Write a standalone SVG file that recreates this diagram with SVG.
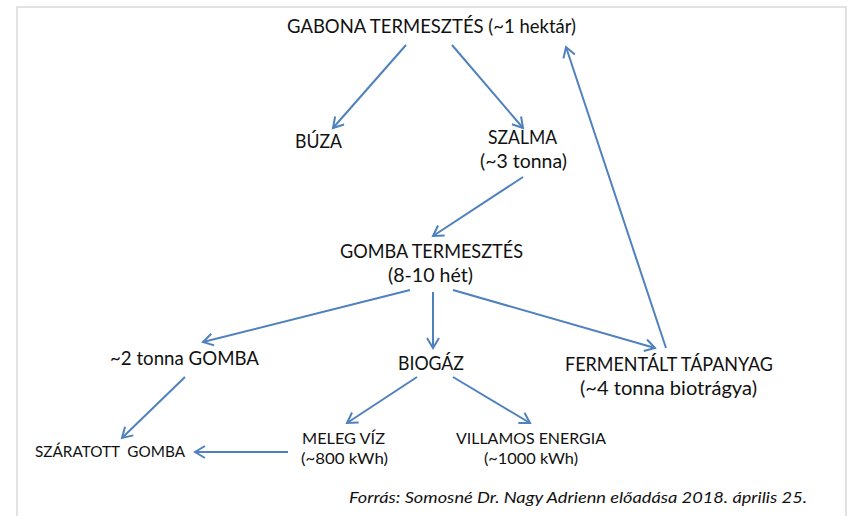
<svg xmlns="http://www.w3.org/2000/svg" width="854" height="516" viewBox="0 0 854 516">
<style>
.t{font-family:Lato,"Open Sans","Liberation Sans",sans-serif;font-size:18.5px;fill:#111111}
.s{font-size:15.5px}
.pre{white-space:pre}
.src{font-family:Lato,"Open Sans","Liberation Sans",sans-serif;font-size:16px;font-style:italic;fill:#111111}
.c line{stroke:#4f81bd;stroke-width:2;marker-end:url(#ah)}
</style>
<defs>
<marker id="ah" markerUnits="userSpaceOnUse" markerWidth="16" markerHeight="16" viewBox="-12 -8 14 16" refX="0" refY="0" orient="auto">
<path d="M -10 -6 L 0 0 L -10 6" fill="none" stroke="#4f81bd" stroke-width="2"/>
</marker>
</defs>
<rect width="854" height="516" fill="#ffffff"/>
<path d="M17 516 V7 H846 V516" fill="none" stroke="#d9d9d9" stroke-width="1.5"/>
<g class="c" id="connectors">
<line x1="406" y1="45" x2="333" y2="128"/>
<line x1="452" y1="45" x2="523" y2="128"/>
<line x1="523" y1="177" x2="433" y2="236"/>
<line x1="410" y1="290" x2="203" y2="342"/>
<line x1="433" y1="292" x2="433" y2="348"/>
<line x1="453" y1="290" x2="655" y2="348"/>
<line x1="666" y1="348" x2="566" y2="47"/>
<line x1="417" y1="377" x2="347" y2="423"/>
<line x1="453" y1="377" x2="530" y2="423"/>
<line x1="185" y1="377" x2="122" y2="438"/>
<line x1="288" y1="452" x2="195" y2="452"/>
</g>
<g id="gabona"><text class="t" x="287" y="33" textLength="289" lengthAdjust="spacingAndGlyphs">GABONA TERMESZTÉS (~1 hektár)</text></g>
<g id="buza"><text class="t" x="295" y="148" textLength="47" lengthAdjust="spacingAndGlyphs">BÚZA</text></g>
<g id="szalma"><text class="t" x="488" y="144" textLength="69" lengthAdjust="spacingAndGlyphs">SZALMA</text><text class="t" x="480" y="168" textLength="87" lengthAdjust="spacingAndGlyphs">(~3 tonna)</text></g>
<g id="gomba-termesztes"><text class="t" x="340" y="258" textLength="183" lengthAdjust="spacingAndGlyphs">GOMBA TERMESZTÉS</text><text class="t" x="388" y="282" textLength="85" lengthAdjust="spacingAndGlyphs">(8-10 hét)</text></g>
<g id="gomba2"><text class="t" x="110" y="365" textLength="149" lengthAdjust="spacingAndGlyphs">~2 tonna GOMBA</text></g>
<g id="biogaz"><text class="t" x="398" y="370" textLength="66" lengthAdjust="spacingAndGlyphs">BIOGÁZ</text></g>
<g id="fermentalt"><text class="t" x="565" y="371" textLength="208" lengthAdjust="spacingAndGlyphs">FERMENTÁLT TÁPANYAG</text><text class="t" x="580" y="395" textLength="177" lengthAdjust="spacingAndGlyphs">(~4 tonna biotrágya)</text></g>
<g id="szaratott"><text class="t s pre" x="35" y="457" textLength="150" lengthAdjust="spacingAndGlyphs">SZÁRATOTT  GOMBA</text></g>
<g id="meleg"><text class="t s" x="302" y="444" textLength="83" lengthAdjust="spacingAndGlyphs">MELEG VÍZ</text><text class="t s" x="301" y="464" textLength="87" lengthAdjust="spacingAndGlyphs">(~800 kWh)</text></g>
<g id="villamos"><text class="t s" x="456" y="444" textLength="150" lengthAdjust="spacingAndGlyphs">VILLAMOS ENERGIA</text><text class="t s" x="484" y="464" textLength="94" lengthAdjust="spacingAndGlyphs">(~1000 kWh)</text></g>
<text class="src" x="349" y="503" textLength="458" lengthAdjust="spacingAndGlyphs">Forrás: Somosné Dr. Nagy Adrienn előadása 2018. április 25.</text>
</svg>
